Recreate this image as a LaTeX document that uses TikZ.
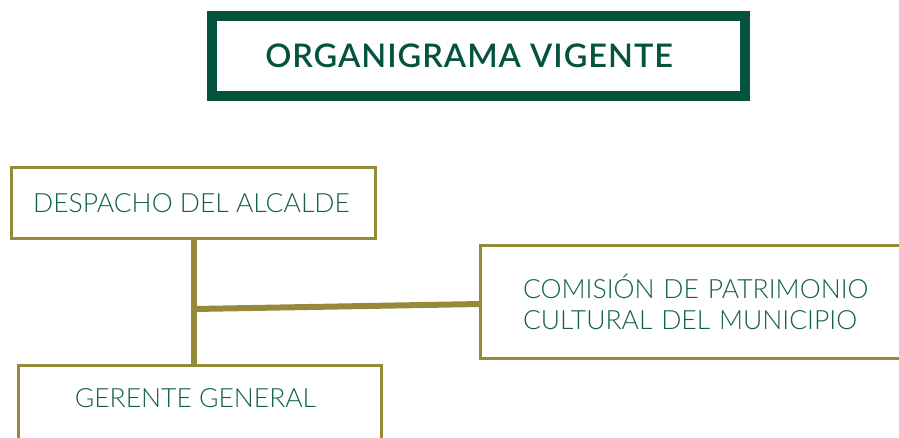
\documentclass[tikz,border=0pt]{standalone}
\usepackage{fontspec}
\setmainfont{Lato}[UprightFont={* Light},BoldFont={* Bold}]
\newfontfamily\titlefont{Lato}[UprightFont={* Semibold},LetterSpace=3]
\definecolor{dkgreen}{HTML}{04533F}
\definecolor{txtgreen}{HTML}{105E4C}
\definecolor{olive}{HTML}{958A3A}
\begin{document}
\begin{tikzpicture}[x=1pt,y=-1pt,
  titlebox/.style={draw=dkgreen,line width=10.5pt,inner sep=0pt,outer sep=0pt,minimum width=533pt,minimum height=80pt,
    font=\titlefont\fontsize{32.5}{36}\selectfont,text=dkgreen},
  orgbox/.style={draw=olive,line width=3pt,inner sep=0pt,outer sep=0pt,text=txtgreen,font=\fontsize{26.5}{31}\selectfont},
  link/.style={draw=olive,line width=6pt}]
\useasboundingbox (0,0) rectangle (899,437);
\node[titlebox] (title) at (478.6,56) {ORGANIGRAMA VIGENTE\hspace*{19pt}};
\node[orgbox,minimum width=364pt,minimum height=71pt] (alcalde) at (193.5,203) {DESPACHO DEL ALCALDE\hspace*{4pt}};
\node[orgbox,anchor=north west,text width=375pt,align=left,inner xsep=42.5pt,minimum height=113pt] (comision) at (480.5,245.5)
  {COMISIÓN DE PATRIMONIO\\CULTURAL DEL MUNICIPIO};
\node[orgbox,anchor=north,minimum width=363pt,text height=18pt,text depth=40pt,inner ysep=24pt] (gerente) at (200,365.5) {GERENTE GENERAL\hspace*{9pt}};
\coordinate (j) at (194,309);
\draw[link] (alcalde.south -| j) -- (gerente.north -| j);
\draw[link] (j) -- ([yshift=-2pt]comision.west);
\end{tikzpicture}
\end{document}
